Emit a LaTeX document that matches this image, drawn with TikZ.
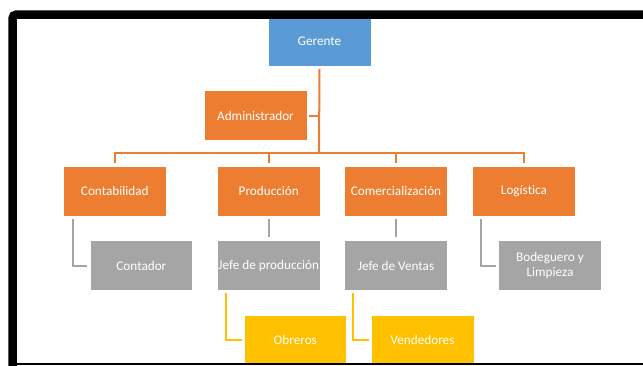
\documentclass[tikz,border=0pt]{standalone}
\usepackage{fontspec}
\setmainfont{Carlito}[Ligatures={NoCommon,NoRare}]
\definecolor{cblue}{HTML}{5B9BD5}
\definecolor{corange}{HTML}{ED7D31}
\definecolor{cgray}{HTML}{A5A5A5}
\definecolor{cyellow}{HTML}{FFC000}
\tikzset{
  orgbox/.style={minimum width=102.6pt, minimum height=50pt, inner sep=0pt, draw=white, line width=0.6pt, text=white, font=\fontsize{13.2}{15.5}\selectfont, align=center},
  bluebox/.style={orgbox, fill=cblue},
  orangebox/.style={orgbox, fill=corange},
  graybox/.style={orgbox, fill=cgray},
  yellowbox/.style={orgbox, fill=cyellow},
  oline/.style={draw=corange, line width=2pt},
  gline/.style={draw=cgray, line width=2pt},
  yline/.style={draw=cyellow, line width=2pt},
}
\begin{document}
\begin{tikzpicture}[x=1pt,y=-1pt]
\useasboundingbox (0,0) rectangle (643,365);
\clip (0,0) rectangle (643,365);
% boxes
\node[bluebox] (ger) at (319.5,41) {Gerente};
\node[orangebox] (adm) at (255.5,115.7) {Administrador};
\node[orangebox] (cont) at (114.8,191) {Contabilidad};
\node[orangebox] (prod) at (268.8,191) {Producción};
\node[orangebox] (com) at (396,191) {Comercialización};
\node[orangebox] (log) at (524,191) {Logística};
\node[graybox] (contador) at (141.4,265.6) {Contador};
\node[graybox] (jprod) at (268.8,265.6) {Jefe de producción};
\node[graybox] (jven) at (396,265.6) {Jefe de Ventas};
\node[graybox] (bod) at (550,265.6) {Bodeguero y\\Limpieza};
\node[yellowbox] (obr) at (295.3,340.3) {Obreros};
\node[yellowbox] (ven) at (422.5,340.3) {Vendedores};
% orange connectors
\coordinate (bus) at (319,152.7);
\draw[oline] ([yshift=-2.5pt]ger.south) -- (bus);
\draw[oline] ([xshift=2pt]adm.east) -- (adm.east -| bus);
\draw[oline] ([yshift=3pt]cont.north) |- (bus) -| ([yshift=3pt]log.north);
\draw[oline] ([yshift=3pt]prod.north) -- (prod.north |- bus);
\draw[oline] ([yshift=3pt]com.north) -- (com.north |- bus);
% gray connectors
\draw[gline] ([xshift=10pt,yshift=-2.5pt]cont.south west) |- ([xshift=-2.5pt]contador.west);
\draw[gline] ([yshift=-2.5pt]prod.south) -- ([yshift=3pt]jprod.north);
\draw[gline] ([yshift=-2.5pt]com.south) -- ([yshift=3pt]jven.north);
\draw[gline] ([xshift=9pt,yshift=-2.5pt]log.south west) |- ([xshift=-2.5pt]bod.west);
% yellow connectors
\draw[yline] ([xshift=8.5pt,yshift=-2.5pt]jprod.south west) |- ([xshift=-2pt]obr.west);
\draw[yline] ([xshift=9pt,yshift=-2.5pt]jven.south west) |- ([xshift=-2pt]ven.west);
% frame
\draw[line width=8.5pt, rounded corners=4pt] (12.5,380) -- (12.5,14.5) -- (680,14.5);
\draw[line width=2.5pt] (9,363.8) -- (680,363.8);
\end{tikzpicture}
\end{document}
